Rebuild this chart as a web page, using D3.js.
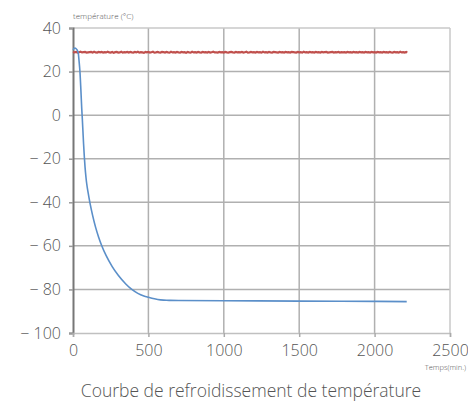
<!DOCTYPE html>
<html><head><meta charset="utf-8">
<script src="https://cdn.jsdelivr.net/npm/d3@7"></script>
<style>
body{margin:0;background:#fff;}
text{font-family:"Open Sans",Lato,sans-serif;font-weight:300;fill:#555;}
</style></head>
<body><svg id="c" width="468" height="404"></svg>
<script>
const xTicks=[0,500,1000,1500,2000,2500];
const yTicks=[-100,-80,-60,-40,-20,0,20,40];
const coolTime=[0,5,13,20,28,35,40,46,52,58,62,66,70,75,80,86,91,100,113,130,150,170,190,220,260,300,350,390,430,470,500,540,580,620,700,1000,1500,2000,2213];
const coolTemp=[30,30.5,30.8,30.5,29.8,28.5,25,20,12,3,-2,-7.5,-13,-19,-24,-28.5,-31.5,-35.5,-40.5,-46,-51.5,-56,-59.8,-64.5,-69.5,-73.5,-77.5,-80,-81.8,-83,-83.6,-84.3,-84.8,-85,-85.05,-85.2,-85.35,-85.5,-85.6];
const ambStep=10;
const ambTemp=[29.0,28.8,29.0,28.7,28.9,29.1,28.8,28.9,29.0,28.7,28.8,28.9,29.0,28.7,29.1,28.8,28.7,29.0,28.8,29.0,
28.7,28.9,28.8,29.1,28.8,28.7,29.0,28.6,28.9,29.0,28.7,28.8,29.1,28.7,28.9,28.8,29.0,28.7,29.0,28.8,
28.7,29.0,28.8,29.1,28.7,28.9,28.8,28.6,29.0,28.8,29.0,28.7,28.9,29.1,28.7,28.8,29.0,28.8,28.7,29.0,
28.9,28.7,29.0,28.8,28.7,29.1,28.8,28.9,28.7,29.0,28.8,28.7,29.0,28.8,28.9,28.6,29.0,28.8,28.7,29.1,
28.8,28.9,28.7,29.0,28.8,28.7,29.0,28.8,28.9,28.7,29.0,28.7,28.9,29.1,28.8,28.8,28.7,29.0,28.8,28.9,
28.7,29.0,28.8,28.7,28.9,29.0,28.8,28.7,29.0,28.8,28.9,28.8,29.0,28.7,28.9,29.1,28.7,28.8,29.0,28.8,
28.9,28.7,29.0,28.8,28.9,28.7,29.1,28.8,28.9,28.7,29.0,28.8,28.7,29.0,28.9,28.8,28.7,29.0,28.8,28.9,
28.7,29.0,28.8,28.9,28.7,29.0,28.9,28.8,28.7,29.0,28.8,28.9,28.7,29.1,28.8,28.9,28.7,29.0,28.8,28.9,
28.7,29.0,28.8,28.9,28.7,29.0,28.8,28.9,29.0,28.7,28.8,28.9,29.0,28.7,28.9,28.8,29.0,28.7,28.9,28.8,
28.9,28.7,29.0,28.8,28.9,28.7,29.0,28.8,28.9,28.7,29.0,28.8,28.9,28.7,29.0,28.8,28.9,28.7,29.0,28.8,
28.9,28.7,29.0,28.8,28.9,28.7,29.0,28.8,28.9,28.7,29.0,28.8,28.7,29.0,28.8,28.9,28.7,29.1,28.8,28.9,
28.7,29.0,28.8];

const svg=d3.select('#c');
const L=73,R=450,T=28,B=333;
const x=d3.scaleLinear().domain([0,2500]).range([L,R]);
const y=d3.scaleLinear().domain([-100,40]).range([B,T]);

svg.append('g').selectAll('line').data(yTicks.filter(d=>d>-100&&d<40)).join('line')
 .attr('x1',L).attr('x2',R).attr('y1',d=>y(d)).attr('y2',d=>y(d)).attr('stroke','#b0b0b0').attr('stroke-width',1.5);
svg.append('g').selectAll('line').data(xTicks.filter(d=>d>0&&d<2500)).join('line')
 .attr('y1',T).attr('y2',B).attr('x1',d=>x(d)).attr('x2',d=>x(d)).attr('stroke','#b0b0b0').attr('stroke-width',1.5);
svg.append('line').attr('x1',L).attr('x2',R).attr('y1',T).attr('y2',T).attr('stroke','#c8c8c8').attr('stroke-width',1.5);
svg.append('line').attr('x1',R).attr('x2',R).attr('y1',T).attr('y2',B).attr('stroke','#c8c8c8').attr('stroke-width',1.5);

const fmt=d=>d<0?'\u2212 '+Math.abs(d):String(d);
const ya=svg.append('g').attr('transform',`translate(${L},0)`).call(d3.axisLeft(y).tickValues(yTicks).tickFormat(fmt).tickSize(4).tickPadding(8));
ya.select('.domain').attr('stroke','#777').attr('stroke-width',2);
ya.selectAll('.tick line').attr('stroke','#999').attr('stroke-width',1.5);
ya.selectAll('text').attr('font-size',16).style('fill','#555');
const xa=svg.append('g').attr('transform',`translate(0,${B})`).call(d3.axisBottom(x).tickValues(xTicks).tickFormat(d3.format('d')).tickSize(4).tickPadding(8));
xa.select('.domain').attr('stroke','#c0c0c0').attr('stroke-width',1.5);
xa.selectAll('.tick line').attr('stroke','#aaa').attr('stroke-width',1.5);
xa.selectAll('text').attr('font-size',16).style('fill','#555');

const ambData=ambTemp.map((v,i)=>[Math.min(i*ambStep,2217),v]);
svg.append('path').datum(ambData).attr('fill','none').attr('stroke','#c0504d').attr('stroke-width',2.2)
 .attr('d',d3.line().x(d=>x(d[0])).y(d=>y(d[1])));
const coolData=coolTime.map((t,i)=>[t,coolTemp[i]]);
svg.append('path').datum(coolData).attr('fill','none').attr('stroke','#5b8fc9').attr('stroke-width',1.6)
 .attr('d',d3.line().curve(d3.curveMonotoneX).x(d=>x(d[0])).y(d=>y(d[1])));

svg.append('text').attr('x',73).attr('y',19).attr('font-size',8).text('température (°C)');
svg.append('text').attr('x',466).attr('y',370).attr('text-anchor','end').attr('font-size',7.5).text('Temps(min.)');
svg.append('text').attr('x',251).attr('y',397).attr('text-anchor','middle').attr('font-size',17.5).text('Courbe de refroidissement de température');
</script></body></html>
